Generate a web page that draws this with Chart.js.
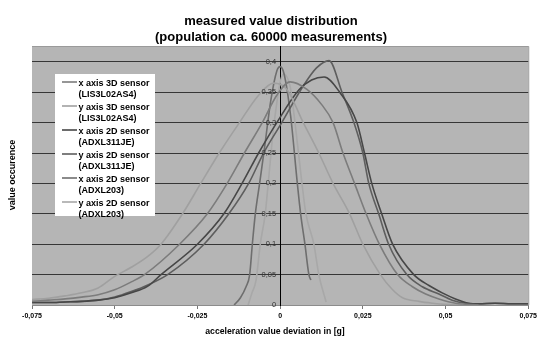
<!DOCTYPE html>
<html>
<head>
<meta charset="utf-8">
<script src="https://cdn.jsdelivr.net/npm/chart.js@4.4.1/dist/chart.umd.min.js"></script>
<style>
  html, body { margin: 0; padding: 0; background: #fff; }
  canvas { display: block; }
</style>
</head>
<body>
<canvas id="myChart" width="540" height="337"></canvas>
<script>
// tick values and labels (comma decimal as in the original)
const xTickValues = [-0.075, -0.05, -0.025, 0, 0.025, 0.05, 0.075];
const xTickLabels = ['-0,075', '-0,05', '-0,025', '0', '0,025', '0,05', '0,075'];
const yTickValues = [0, 0.05, 0.1, 0.15, 0.2, 0.25, 0.3, 0.35, 0.4];
const yTickLabels = ['0', '0,05', '0,1', '0,15', '0,2', '0,25', '0,3', '0,35', '0,4'];

const seriesNames = [
  ['x axis 3D sensor', '(LIS3L02AS4)'],
  ['y axis 3D sensor', '(LIS3L02AS4)'],
  ['x axis 2D sensor', '(ADXL311JE)'],
  ['y axis 2D sensor', '(ADXL311JE)'],
  ['x axis 2D sensor', '(ADXL203)'],
  ['y axis 2D sensor', '(ADXL203)']
];
const seriesColors = ['#7c7c7c', '#a0a0a0', '#474747', '#5e5e5e', '#6e6e6e', '#a8a8a8'];

// x axis 3D sensor (LIS3L02AS4)
const x3dX = [-0.075, -0.07, -0.065, -0.06, -0.055, -0.05, -0.045, -0.041, -0.0304, -0.022, -0.016, -0.0108, -0.0054, -0.001, 0.003, 0.008, 0.0125, 0.016, 0.019, 0.0225, 0.026, 0.03, 0.0355, 0.04, 0.044, 0.048, 0.053, 0.06];
const x3dY = [0.006, 0.008, 0.010, 0.013, 0.017, 0.025, 0.038, 0.05, 0.1, 0.15, 0.2, 0.25, 0.3, 0.345, 0.367, 0.355, 0.33, 0.3, 0.25, 0.2, 0.15, 0.1, 0.05, 0.03, 0.018, 0.01, 0.003, 0];
// y axis 3D sensor (LIS3L02AS4)
const y3dX = [-0.075, -0.07, -0.065, -0.06, -0.055, -0.05, -0.045, -0.04, -0.036, -0.0295, -0.024, -0.0184, -0.0123, -0.0065, -0.002, 0.002, 0.007, 0.0117, 0.016, 0.021, 0.025, 0.0303, 0.034, 0.037, 0.042, 0.046, 0.05, 0.055];
const y3dY = [0.009, 0.011, 0.015, 0.02, 0.028, 0.047, 0.062, 0.08, 0.1, 0.15, 0.2, 0.25, 0.3, 0.345, 0.365, 0.355, 0.3, 0.25, 0.2, 0.15, 0.1, 0.05, 0.025, 0.012, 0.006, 0.003, 0.001, 0];
// x axis 2D sensor (ADXL311JE)
const x311X = [-0.075, -0.07, -0.065, -0.06, -0.055, -0.05, -0.045, -0.04, -0.036, -0.025, -0.017, -0.0115, -0.0065, -0.001, 0.0057, 0.0095, 0.0133, 0.018, 0.0232, 0.0255, 0.0277, 0.0307, 0.034, 0.0404, 0.045, 0.049, 0.053, 0.057, 0.06, 0.065, 0.07, 0.075];
const x311Y = [0.004, 0.004, 0.005, 0.006, 0.008, 0.012, 0.02, 0.031, 0.05, 0.1, 0.15, 0.2, 0.25, 0.3, 0.354, 0.37, 0.375, 0.35, 0.3, 0.25, 0.2, 0.15, 0.1, 0.05, 0.032, 0.02, 0.01, 0.003, 0.002, 0.003, 0.002, 0.002];
// y axis 2D sensor (ADXL311JE)
const y311X = [-0.075, -0.07, -0.065, -0.06, -0.055, -0.05, -0.045, -0.04, -0.034, -0.023, -0.0155, -0.0095, -0.005, 0.0005, 0.0066, 0.011, 0.0148, 0.0187, 0.0223, 0.025, 0.0268, 0.0298, 0.0328, 0.0383, 0.043, 0.048, 0.052, 0.056, 0.06, 0.065, 0.07, 0.075];
const y311Y = [0.004, 0.004, 0.005, 0.006, 0.008, 0.013, 0.022, 0.033, 0.05, 0.1, 0.15, 0.2, 0.25, 0.3, 0.357, 0.39, 0.402, 0.35, 0.3, 0.25, 0.2, 0.15, 0.1, 0.05, 0.03, 0.018, 0.008, 0.003, 0.002, 0.003, 0.002, 0.002];
// x axis 2D sensor (ADXL203)
const x203X = [-0.0139, -0.012, -0.0103, -0.0092, -0.0084, -0.0075, -0.0062, -0.0048, -0.0028, -0.001, 0, 0.0012, 0.0032, 0.0052, 0.0062, 0.0075, 0.0087, 0.0093];
const x203Y = [0, 0.012, 0.03, 0.05, 0.1, 0.15, 0.2, 0.255, 0.337, 0.385, 0.392, 0.38, 0.31, 0.2, 0.15, 0.1, 0.05, 0.041];
// y axis 2D sensor (ADXL203)
const y203X = [-0.0097, -0.0085, -0.0073, -0.006, -0.0045, -0.0036, -0.0018, 0.001, 0.003, 0.0045, 0.0066, 0.0078, 0.0102, 0.0117, 0.0139];
const y203Y = [0, 0.02, 0.04, 0.1, 0.15, 0.2, 0.3, 0.38, 0.36, 0.3, 0.2, 0.15, 0.1, 0.05, 0.005];

const seriesX = [x3dX, y3dX, x311X, y311X, x203X, y203X];
const seriesY = [x3dY, y3dY, x311Y, y311Y, x203Y, y203Y];

const FONT = 'Liberation Sans, Arial, sans-serif';

const datasets = seriesNames.map((name, i) => ({
  label: name.join(' '),
  data: seriesX[i].map((x, j) => ({ x: x, y: seriesY[i][j] })),
  borderColor: seriesColors[i],
  borderWidth: 1.6,
  showLine: true,
  pointRadius: 0,
  cubicInterpolationMode: 'monotone',
  fill: false
}));

// grey plot background
const plotBg = {
  id: 'plotBg',
  beforeDraw(chart) {
    const { ctx, chartArea: a } = chart;
    ctx.save();
    ctx.fillStyle = '#b5b5b5';
    ctx.fillRect(a.left, a.top, a.right - a.left, a.bottom - a.top);
    ctx.strokeStyle = '#9a9a9a';
    ctx.lineWidth = 1;
    ctx.beginPath();
    ctx.moveTo(a.left, a.top + 0.5);
    ctx.lineTo(a.right + 0.5, a.top + 0.5);
    ctx.lineTo(a.right + 0.5, a.bottom);
    ctx.stroke();
    ctx.restore();
  }
};

// titles, y tick labels beside the centred axis, and the boxed legend
const texts = {
  id: 'texts',
  afterDraw(chart) {
    const ctx = chart.ctx;
    const xs = chart.scales.x, ys = chart.scales.y;
    ctx.save();
    ctx.fillStyle = '#000';
    ctx.textAlign = 'center';
    ctx.textBaseline = 'alphabetic';
    ctx.font = 'bold 13px ' + FONT;
    ctx.fillText('measured value distribution', 271, 25);
    ctx.fillText('(population ca. 60000 measurements)', 271, 41);

    ctx.font = 'bold 8.7px ' + FONT;
    ctx.fillText('acceleration value deviation in [g]', 275, 334);

    ctx.save();
    ctx.translate(15, 175);
    ctx.rotate(-Math.PI / 2);
    ctx.font = 'bold 9px ' + FONT;
    ctx.fillText('value occurence', 0, 0);
    ctx.restore();

    // y tick labels, right aligned against the axis at x = 0
    ctx.font = '7.5px ' + FONT;
    ctx.fillStyle = '#333';
    ctx.textAlign = 'right';
    ctx.textBaseline = 'middle';
    const ax = xs.getPixelForValue(0);
    yTickValues.forEach((v, i) => {
      ctx.fillText(yTickLabels[i], ax - 4, ys.getPixelForValue(v));
    });

    // legend
    const bx = 55, by = 74, bw = 100, bh = 142;
    ctx.fillStyle = '#fff';
    ctx.fillRect(bx, by, bw, bh);
    ctx.textAlign = 'left';
    ctx.textBaseline = 'alphabetic';
    ctx.font = 'bold 9px ' + FONT;
    chart.data.datasets.forEach((ds, i) => {
      const y = 82 + i * 24;
      ctx.strokeStyle = ds.borderColor;
      ctx.lineWidth = 1.6;
      ctx.beginPath();
      ctx.moveTo(62, y);
      ctx.lineTo(77, y);
      ctx.stroke();
      ctx.fillStyle = '#000';
      ctx.fillText(seriesNames[i][0], 78.5, y + 4);
      ctx.fillText(seriesNames[i][1], 78.5, y + 15);
    });
    ctx.restore();
  }
};

const ctx = document.getElementById('myChart').getContext('2d');
new Chart(ctx, {
  type: 'scatter',
  data: { datasets: datasets },
  plugins: [plotBg, texts],
  options: {
    responsive: false,
    animation: false,
    layout: { padding: { left: 32, right: 10, top: 46, bottom: 0 } },
    plugins: {
      legend: { display: false },
      tooltip: { enabled: false }
    },
    scales: {
      x: {
        type: 'linear',
        min: -0.075,
        max: 0.075,
        afterBuildTicks: s => { s.ticks = xTickValues.map(v => ({ value: v })); },
        afterFit: s => { s.height = 32; },
        grid: { drawOnChartArea: false, drawTicks: true, tickLength: 4, color: '#777' },
        border: { color: '#8c8c8c', width: 1 },
        ticks: {
          autoSkip: false, maxRotation: 0, padding: 3, color: '#000',
          font: { family: FONT, size: 7, weight: 'bold' },
          callback: v => xTickLabels[xTickValues.indexOf(v)]
        }
      },
      y: {
        min: 0,
        max: 0.426,
        position: { x: 0 },
        afterBuildTicks: s => { s.ticks = yTickValues.map(v => ({ value: v })); },
        grid: {
          color: c => (c.tick && c.tick.value === 0) ? '#8c8c8c' : '#363636',
          lineWidth: 1,
          tickLength: 3
        },
        border: { color: '#000', width: 1 },
        ticks: { display: false }
      }
    }
  }
});
</script>
</body>
</html>
